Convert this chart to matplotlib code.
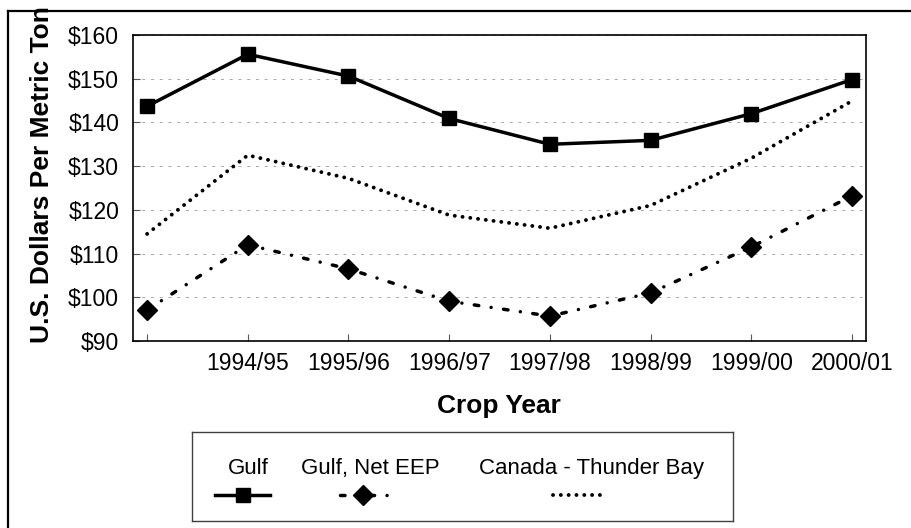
import numpy as np
import matplotlib
matplotlib.use('Agg')
import matplotlib.pyplot as plt
from matplotlib.lines import Line2D

## plt config
plt.rcParams['font.family'] = ['Liberation Sans', 'DejaVu Sans']

## data (US$ per metric ton)
crop_years = ['1993/94', '1994/95', '1995/96', '1996/97', '1997/98', '1998/99', '1999/00', '2000/01']
x_labels = ['', '1994/95', '1995/96', '1996/97', '1997/98', '1998/99', '1999/00', '2000/01']
gulf = [143.7, 155.6, 150.6, 140.9, 135.0, 135.9, 142.0, 149.8]
gulf_net_eep = [97.1, 112.0, 106.5, 99.1, 95.7, 101.0, 111.5, 123.2]
canada_thunder_bay = [114.5, 132.5, 127.2, 118.8, 115.8, 121.0, 131.8, 144.9]
y_ticks = [90, 100, 110, 120, 130, 140, 150, 160]

W, H = 912, 528
fig = plt.figure(figsize=(W / 100, H / 100), dpi=100)
ax = fig.add_axes([133 / W, 1 - 341 / H, (866 - 133) / W, (341 - 35) / H])

x = np.arange(len(crop_years))
dot_style = (0, (0.01, 2.0))
dashdot_style = (0, (1.3, 3.6, 0.01, 3.6))

ax.plot(x, canada_thunder_bay, color='black', lw=2.8, linestyle=dot_style,
        dash_capstyle='round', zorder=3)
ax.plot(x, gulf_net_eep, color='black', lw=2.5, linestyle=dashdot_style,
        dash_capstyle='round', marker='D', ms=10, zorder=3)
ax.plot(x, gulf, color='black', lw=2.5, marker='s', ms=10, zorder=4)

ax.set_xlim(-0.14, len(crop_years) - 1 + 0.14)
ax.set_ylim(90, 160)
ax.set_xticks(x)
ax.set_xticklabels(x_labels, fontsize=16.5)
ax.set_yticks(y_ticks)
ax.set_yticklabels(['$%d' % v for v in y_ticks], fontsize=16.5)
ax.tick_params(direction='in', length=5, width=0.8, color='0.35')
ax.tick_params(axis='x', pad=8)
ax.tick_params(axis='y', pad=10)
ax.yaxis.grid(True, color='0.65', linestyle=(0, (3, 6)), lw=0.7)
for s in ax.spines.values():
    s.set_linewidth(1.2)
    s.set_color('black')

fig.text(42 / W, 1 - 175 / H, 'U.S. Dollars Per Metric Ton', rotation=90,
         ha='center', va='center', fontsize=19, fontweight='bold')
fig.text(499 / W, 1 - 413 / H, 'Crop Year', ha='center', va='baseline',
         fontsize=19, fontweight='bold')

## legend box, drawn in pixel units
lx0, lx1, ly0, ly1 = 192, 733, 432, 521
lax = fig.add_axes([lx0 / W, 1 - ly1 / H, (lx1 - lx0) / W, (ly1 - ly0) / H])
lax.set_xlim(lx0, lx1)
lax.set_ylim(ly1, ly0)
lax.set_xticks([])
lax.set_yticks([])
for s in lax.spines.values():
    s.set_linewidth(1.0)
    s.set_color('0.25')

ty = 474
hy = 495
lax.text(248, ty, 'Gulf', ha='center', va='baseline', fontsize=16)
lax.text(370, ty, 'Gulf, Net EEP', ha='center', va='baseline', fontsize=16)
lax.text(592, ty, 'Canada - Thunder Bay', ha='center', va='baseline', fontsize=16)
lax.plot([215, 243, 270], [hy, hy, hy], color='black', lw=2.5, marker='s', ms=10,
         markevery=[1])
lax.plot([340, 363, 391], [hy, hy, hy], color='black', lw=2.5, linestyle=dashdot_style,
         dash_capstyle='round', marker='D', ms=10, markevery=[1])
lax.plot([553, 605], [hy, hy], color='black', lw=2.8, linestyle=dot_style,
         dash_capstyle='round')

## outer frame (left and top edges visible)
fig.add_artist(Line2D([8 / W, 8 / W], [0, 1 - 11 / H], transform=fig.transFigure,
                      color='black', lw=1.6))
fig.add_artist(Line2D([8 / W, 1], [1 - 11 / H, 1 - 11 / H], transform=fig.transFigure,
                      color='black', lw=1.6))

fig.savefig('out.png', dpi=100)
